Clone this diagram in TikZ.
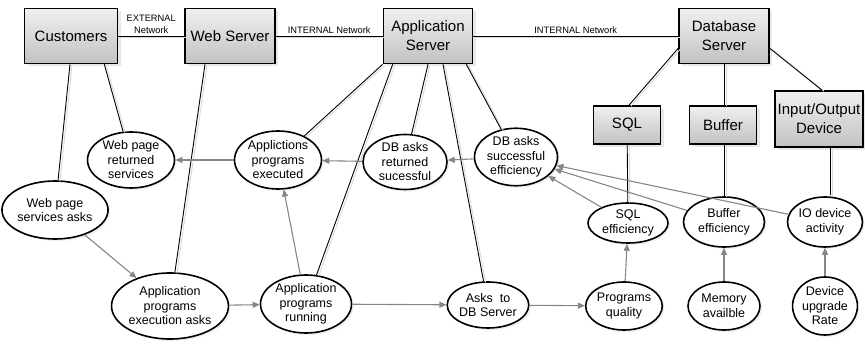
\documentclass[tikz,border=0pt]{standalone}
\usepackage{fontspec}
\setmainfont{Liberation Sans}
\usepackage{tikz}
\usetikzlibrary{positioning,arrows.meta,shapes.geometric,shadows,calc}
\usepackage{xcolor}

\begin{document}
\begin{tikzpicture}[x=1pt, y=-1pt, >={Triangle[length=7pt,width=6pt]},
    box/.style={draw, line width=1.6pt, rectangle, top color=gray!12, bottom color=gray!48,
        drop shadow={shadow xshift=3pt, shadow yshift=-3pt, fill=gray!35},
        align=center, inner sep=1pt, font=\fontsize{15}{19}\selectfont},
    bubble/.style={draw, line width=1.6pt, ellipse, fill=white, align=center, inner sep=0pt,
        drop shadow={shadow xshift=2pt, shadow yshift=-2pt, fill=gray!25},
        font=\fontsize{12.5}{14.5}\selectfont},
    link/.style={draw, line width=0.9pt,
        preaction={draw, gray!30, line width=0.9pt, transform canvas={shift={(2pt,-1pt)}}}},
    flow/.style={->, draw=gray!95, line width=1.1pt},
    netlabel/.style={font=\fontsize{9.3}{12}\selectfont, align=center, inner sep=2pt}]
    \useasboundingbox (0,0) rectangle (865,347);

    % Servers and devices
    \node[box, minimum width=93pt, minimum height=55pt] (cust) at (71,36) {Customers};
    \node[box, minimum width=90pt, minimum height=55pt] (web) at (230,36) {Web Server};
    \node[box, minimum width=89pt, minimum height=55pt] (app) at (428,36) {Application\\Server};
    \node[box, minimum width=90pt, minimum height=55pt] (db) at (724,36) {Database\\Server};
    \node[box, minimum width=67pt, minimum height=38pt] (sql) at (627,125) {SQL};
    \node[box, minimum width=67pt, minimum height=38pt] (buf) at (723,125) {Buffer};
    \node[box, minimum width=88pt, minimum height=56pt] (io) at (819,119) {Input/Output\\Device};

    % Upper row of ellipses
    \node[bubble, minimum width=87pt, minimum height=56pt] (wpret) at (131,160) {Web page\\returned\\services};
    \node[bubble, minimum width=87pt, minimum height=58pt] (apexec) at (278,160) {Applictions\\programs\\executed};
    \node[bubble, minimum width=84pt, minimum height=55pt] (dbret) at (405,162) {DB asks\\returned\\sucessful};
    \node[bubble, minimum width=83pt, minimum height=47pt] (dbeff) at (516,157) {DB asks\\successful\\efficiency};
    \node[bubble, minimum width=90pt, minimum height=58pt] (wpask) at (55,210) {Web page\\services asks};
    \node[bubble, minimum width=80pt, minimum height=40pt] (sqleff) at (628,223) {SQL\\efficiency};
    \node[bubble, minimum width=81pt, minimum height=50pt] (bufeff) at (724,222) {Buffer\\efficiency};
    \node[bubble, minimum width=75pt, minimum height=50pt] (ioeff) at (825,222) {IO device\\activity};

    % Lower row of ellipses
    \node[bubble, minimum width=104pt, minimum height=66pt] (apask) at (170,306) {Application\\programs\\execution asks};
    \node[bubble, minimum width=91pt, minimum height=58pt] (aprun) at (306,304) {Application\\programs\\running};
    \node[bubble, minimum width=73pt, minimum height=46pt] (askdb) at (488,305) {Asks\ \ to\\DB Server};
    \node[bubble, minimum width=64pt, minimum height=48pt] (pq) at (624,306) {Programs\\quality};
    \node[bubble, minimum width=72pt, minimum height=48pt] (mem) at (724,306) {Memory\\availble};
    \node[bubble, minimum width=64pt, minimum height=58pt] (dev) at (825,306) {Device\\upgrade\\Rate};

    % Networks
    \path[link] (cust) -- node[netlabel, above] {EXTERNAL\\Network} (web);
    \path[link] (web) -- node[netlabel, above] {INTERNAL Network} (app);
    \path[link] (app) -- node[netlabel, above] {INTERNAL Network} (db);

    % Links from servers
    \path[link] (cust.south) ++(-1pt,0) -- (wpask);
    \path[link] ([xshift=-14pt]cust.south east) -- (wpret);
    \path[link] ([xshift=-25pt]web.south) -- (apask);
    \path[link] (app.south west) -- (apexec);
    \path[link] ([xshift=10pt]app.south west) -- (aprun);
    \path[link] (app.south) -- (dbret);
    \path[link] ([xshift=15pt]app.south) -- (askdb);
    \path[link] ([xshift=-7pt]app.south east) -- (dbeff);
    \path[link] ([yshift=16pt]db.south west) -- ([xshift=2pt]sql.north);
    \path[link] (db.south) -- (db.south |- buf.north);
    \path[link] ([yshift=16pt]db.south east) -- ([xshift=3pt]io.north);
    \path[link] (sql) -- (sqleff);
    \path[link] (buf.south -| bufeff.north) -- (bufeff);
    \path[link] (io.south -| ioeff.north) ++(5pt,0) -- ($(ioeff.north)+(5pt,1pt)$);

    % Flow arrows
    \draw[flow] (wpask) -- (apask);
    \draw[flow] (apask) -- (aprun);
    \draw[flow] (aprun) -- (askdb);
    \draw[flow] (askdb) -- (pq);
    \draw[flow] (aprun) -- (apexec);
    \draw[flow] (pq) -- (sqleff);
    \draw[flow] (mem) -- (bufeff);
    \draw[flow] (dev) -- (ioeff);
    \draw[flow] (sqleff) -- (dbeff);
    \draw[flow] (bufeff) -- (dbeff);
    \draw[flow] (ioeff) -- (dbeff);
    \draw[flow] (dbeff) -- (dbret);
    \draw[flow] (dbret) -- (apexec);
    \draw[flow] (apexec) -- (wpret);
\end{tikzpicture}
\end{document}
